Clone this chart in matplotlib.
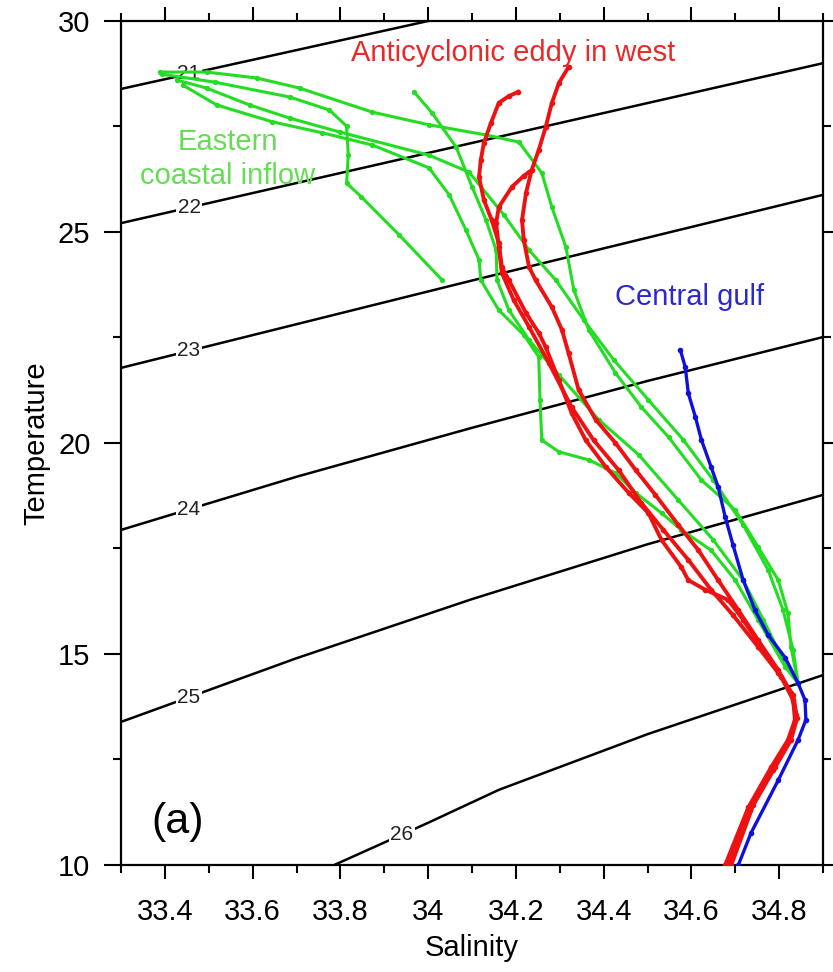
import numpy as np
import matplotlib
matplotlib.use("Agg")
import matplotlib.pyplot as plt
from matplotlib.ticker import MultipleLocator

plt.rcParams['font.family'] = ['Liberation Sans', 'DejaVu Sans']

sigma_levels = [21, 22, 23, 24, 25, 26]
sigma_S = [[33.3, 34.0],
           [33.3, 34.1, 34.9],
           [33.3, 34.1, 34.9],
           [33.3, 33.7, 34.1, 34.5, 34.9],
           [33.3, 33.7, 34.1, 34.5, 34.9],
           [33.786, 34.0, 34.161, 34.5, 34.9]]
sigma_T = [[28.39, 30.0],
           [25.21, 27.11, 29.0],
           [21.78, 23.85, 25.88],
           [17.94, 19.2, 20.36, 21.47, 22.51],
           [13.39, 14.9, 16.3, 17.6, 18.77],
           [10.0, 11.0, 11.78, 13.1, 14.5]]
label_S = [33.455, 33.455, 33.455, 33.455, 33.455, 33.94]

# eastern coastal inflow (green)
green_S = [
    [33.393, 33.514, 33.684, 33.775, 33.814, 33.818, 33.814, 33.848, 33.934, 34.032],
    [33.389, 33.495, 33.609, 33.707, 33.873, 34.002, 34.132, 34.207, 34.259, 34.282,
     34.314, 34.332, 34.366, 34.427, 34.486, 34.548, 34.623, 34.700, 34.752, 34.798,
     34.820, 34.827, 34.843],
    [33.427, 33.495, 33.593, 33.684, 33.798, 34.002, 34.093, 34.173, 34.230, 34.291,
     34.355, 34.423, 34.502, 34.582, 34.650, 34.718, 34.775, 34.809, 34.832, 34.843],
    [33.441, 33.518, 33.645, 33.759, 33.873, 34.002, 34.048, 34.086, 34.116, 34.120,
     34.161, 34.218, 34.252, 34.255, 34.259, 34.298, 34.366, 34.427, 34.473, 34.532,
     34.577, 34.645, 34.700, 34.752, 34.814, 34.843],
    [33.968, 34.009, 34.064, 34.100, 34.132, 34.155, 34.157, 34.184, 34.230, 34.298,
     34.389, 34.480, 34.570, 34.650, 34.718, 34.764, 34.809, 34.843],
]
green_T = [
    [28.74, 28.55, 28.20, 27.89, 27.51, 26.82, 26.16, 25.83, 24.93, 23.86],
    [28.79, 28.79, 28.65, 28.41, 27.84, 27.54, 27.30, 27.13, 26.40, 25.59,
     24.64, 23.63, 22.68, 21.66, 20.85, 20.14, 19.12, 18.41, 17.54, 16.75,
     15.97, 15.17, 14.31],
    [28.60, 28.41, 28.01, 27.70, 27.37, 26.82, 26.42, 25.40, 24.57, 23.86,
     22.91, 21.97, 21.02, 20.07, 19.12, 18.06, 16.99, 16.04, 15.09, 14.31],
    [28.48, 28.01, 27.61, 27.35, 27.06, 26.52, 25.88, 25.05, 24.34, 23.86,
     23.15, 22.56, 22.04, 21.02, 20.07, 19.79, 19.60, 19.29, 18.82, 18.34,
     17.94, 17.46, 16.75, 15.81, 14.69, 14.31],
    [28.32, 27.82, 27.01, 26.07, 25.28, 24.57, 23.86, 23.15, 22.44, 21.61,
     20.55, 19.72, 18.65, 17.70, 16.75, 15.81, 14.86, 14.31],
]

# anticyclonic eddy in west (red)
red_S = [
    [34.205, 34.184, 34.161, 34.143, 34.127, 34.120, 34.116, 34.127, 34.145, 34.161,
     34.168, 34.184, 34.223, 34.252, 34.268, 34.298, 34.327, 34.359, 34.405, 34.457,
     34.502, 34.532, 34.577, 34.593, 34.632, 34.684, 34.718, 34.764, 34.805, 34.832,
     34.836, 34.820, 34.782, 34.730, 34.677],
    [34.320, 34.298, 34.282, 34.268, 34.252, 34.236, 34.223, 34.214, 34.218, 34.230,
     34.245, 34.282, 34.305, 34.320, 34.343, 34.382, 34.427, 34.473, 34.518, 34.570,
     34.616, 34.661, 34.707, 34.752, 34.798, 34.827, 34.839, 34.825, 34.786, 34.734,
     34.684],
    [34.230, 34.218, 34.191, 34.161, 34.155, 34.161, 34.168, 34.195, 34.230, 34.275,
     34.327, 34.377, 34.434, 34.486, 34.536, 34.593, 34.645, 34.695, 34.752, 34.798,
     34.832, 34.841, 34.827, 34.791, 34.741, 34.691],
]
red_T = [
    [28.32, 28.22, 28.06, 27.58, 27.11, 26.71, 26.30, 25.76, 25.28, 24.74,
     24.17, 23.86, 23.08, 22.61, 22.27, 21.49, 20.71, 20.07, 19.43, 18.82,
     18.34, 17.70, 17.06, 16.75, 16.52, 16.28, 15.81, 15.09, 14.45, 13.91,
     13.44, 12.96, 12.32, 11.37, 10.00],
    [28.91, 28.53, 28.06, 27.49, 26.94, 26.47, 25.92, 25.28, 24.81, 24.17,
     23.86, 23.22, 22.68, 22.13, 21.26, 20.55, 20.00, 19.36, 18.77, 18.06,
     17.46, 16.75, 16.04, 15.33, 14.62, 14.08, 13.55, 12.96, 12.25, 11.30,
     10.00],
    [26.42, 26.33, 26.07, 25.59, 25.21, 24.64, 24.03, 23.39, 22.75, 21.90,
     20.85, 20.07, 19.36, 18.58, 17.94, 17.23, 16.52, 15.92, 15.17, 14.55,
     14.03, 13.48, 12.96, 12.32, 11.42, 10.00],
]

# central gulf (blue)
blue_S = [34.575, 34.586, 34.593, 34.609, 34.623, 34.645, 34.661, 34.677, 34.695, 34.718,
          34.745, 34.775, 34.814, 34.843, 34.859, 34.861, 34.843, 34.798, 34.736, 34.707]
blue_T = [22.20, 21.80, 21.18, 20.62, 20.07, 19.43, 18.96, 18.25, 17.58, 16.75,
          16.04, 15.45, 14.91, 14.31, 13.91, 13.44, 12.96, 12.01, 10.76, 10.00]

fig = plt.figure(figsize=(8.33, 9.72), dpi=100)
ax = fig.add_axes([0.1453, 0.1101, 0.8427, 0.8683])

# isopycnal lines with inline labels
for lev, s, t, ls in zip(sigma_levels, sigma_S, sigma_T, label_S):
    ax.plot(s, t, color='black', lw=1.8, zorder=2)
    lt = np.interp(ls, s, t)
    ax.text(ls, lt, str(lev), fontsize=15, color='#222222', ha='center', va='center',
            zorder=2.5, bbox=dict(facecolor='white', edgecolor='none', pad=1.0))

for s, t in zip(green_S, green_T):
    ax.plot(s, t, color='#22dd22', lw=2.2, marker='o', ms=2.8, zorder=3)
ax.plot(blue_S, blue_T, color='#1010dd', lw=2.4, marker='o', ms=3, zorder=3.5)
for s, t in zip(red_S, red_T):
    ax.plot(s, t, color='#ee1111', lw=2.8, marker='o', ms=3, zorder=4)

ax.text(33.825, 29.24, 'Anticyclonic eddy in west', color='#e52a2a', fontsize=21,
        ha='left', va='center', zorder=5)
ax.text(34.427, 23.46, 'Central gulf', color='#2a2acc', fontsize=21,
        ha='left', va='center', zorder=5)
ax.text(33.543, 26.73, 'Eastern\ncoastal inflow', color='#66dd55', fontsize=21,
        ha='center', va='center', linespacing=1.25, zorder=5)
ax.text(0.081, 0.051, '(a)', transform=ax.transAxes, fontsize=31,
        ha='center', va='center', zorder=5)

ax.set_xlim(33.3, 34.9)
ax.set_ylim(10, 30)
ax.xaxis.set_minor_locator(MultipleLocator(0.1))
ax.yaxis.set_minor_locator(MultipleLocator(2.5))
ax.set_xticks([33.4, 33.6, 33.8, 34.0, 34.2, 34.4, 34.6, 34.8])
ax.set_xticklabels(['33.4', '33.6', '33.8', '34', '34.2', '34.4', '34.6', '34.8'])
ax.set_yticks([10, 15, 20, 25, 30])

ax.tick_params(which='both', direction='out', top=True, right=True,
               labelsize=21, width=1.5)
ax.tick_params(axis='x', which='major', length=10, pad=14)
ax.tick_params(axis='y', which='major', length=12, pad=10)
ax.tick_params(which='minor', length=6)
for sp in ax.spines.values():
    sp.set_linewidth(1.6)

ax.set_xlabel('Salinity', fontsize=21)
ax.set_ylabel('Temperature', fontsize=21)
ax.xaxis.set_label_coords(0.5, -0.082)
ax.yaxis.set_label_coords(-0.1, 0.5)

fig.savefig('out.png', dpi=100)
